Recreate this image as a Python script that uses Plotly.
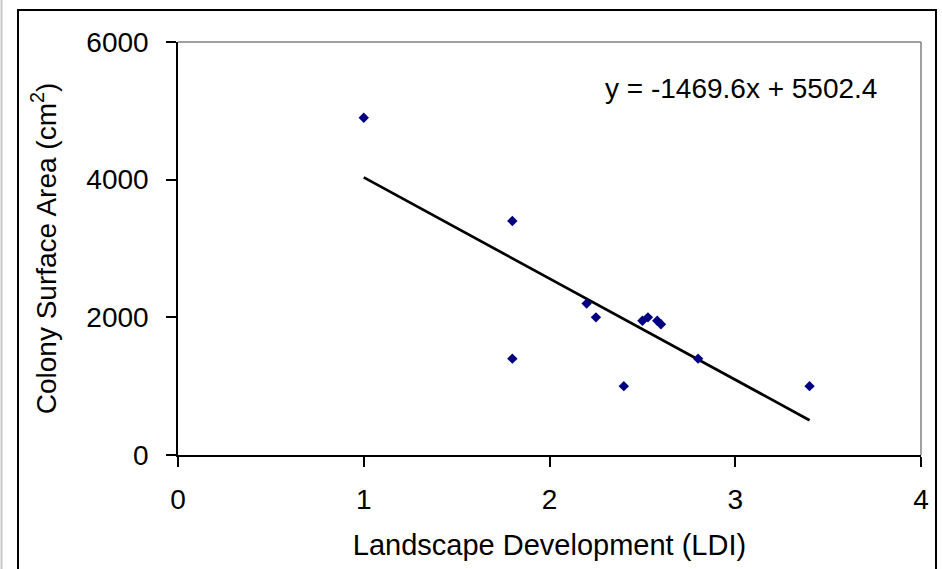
import plotly.graph_objects as go

# Data
ldi = [1.0, 1.8, 1.8, 2.2, 2.25, 2.4, 2.5, 2.53, 2.58, 2.6, 2.8, 3.4]
surface_area = [4900, 3400, 1400, 2200, 2000, 1000, 1950, 2000, 1950, 1900, 1400, 1000]

slope = -1469.6
intercept = 5502.4
equation_text = "y = -1469.6x + 5502.4"

x_ticks = [0, 1, 2, 3, 4]
y_ticks = [0, 2000, 4000, 6000]

W, H = 942, 569
L, R, T, B = 178, 21, 42, 114
pw, ph = W - L - R, H - T - B


def px_to_paper_x(px):
    return (px - L) / pw


def px_to_paper_y(py):
    return (H - B - py) / ph


font_family = "Arial, Liberation Sans, sans-serif"

fig = go.Figure()

trend_x = [min(ldi), max(ldi)]
trend_y = [slope * v + intercept for v in trend_x]
fig.add_trace(go.Scatter(
    x=trend_x, y=trend_y, mode="lines",
    line=dict(color="black", width=2.7),
    hoverinfo="skip", showlegend=False,
))

fig.add_trace(go.Scatter(
    x=ldi, y=surface_area, mode="markers",
    marker=dict(symbol="diamond", size=8, color="#000080", line=dict(width=0)),
    showlegend=False,
))

axis_common = dict(
    showgrid=False, zeroline=False, showline=True, linecolor="black", linewidth=1.5,
    ticks="outside", ticklen=10, tickwidth=1.5, tickcolor="black",
    tickfont=dict(family=font_family, size=28, color="black"),
)

fig.update_xaxes(
    range=[0, 4], tickvals=x_ticks, ticktext=[str(v) for v in x_ticks],
    ticklabelstandoff=9,
    title=dict(text="Landscape Development (LDI)", standoff=20,
               font=dict(family=font_family, size=29, color="black")),
    **axis_common,
)
fig.update_yaxes(
    range=[0, 6000], tickvals=y_ticks, ticktext=[str(v) for v in y_ticks],
    ticklabelstandoff=12,
    title=dict(text="Colony Surface Area (cm<sup>2</sup>)", standoff=22,
               font=dict(family=font_family, size=28, color="black")),
    **axis_common,
)

shapes = [
    # grey top and right plot-area border
    dict(type="line", xref="paper", yref="paper", x0=0, x1=1, y0=1, y1=1,
         line=dict(color="#808080", width=1.5)),
    dict(type="line", xref="paper", yref="paper", x0=1, x1=1, y0=0, y1=1,
         line=dict(color="#808080", width=1.5)),
    # outer chart frame
    dict(type="rect", xref="paper", yref="paper",
         x0=px_to_paper_x(18), x1=px_to_paper_x(936),
         y0=px_to_paper_y(600), y1=px_to_paper_y(10),
         line=dict(color="black", width=2), layer="below"),
    # light grey line at far left edge
    dict(type="line", xref="paper", yref="paper",
         x0=px_to_paper_x(1.5), x1=px_to_paper_x(1.5),
         y0=px_to_paper_y(600), y1=px_to_paper_y(0),
         line=dict(color="#c8c8c8", width=2)),
]

fig.update_layout(
    width=W, height=H,
    margin=dict(l=L, r=R, t=T, b=B, pad=0),
    paper_bgcolor="white", plot_bgcolor="white",
    shapes=shapes,
    annotations=[dict(
        text=equation_text, xref="paper", yref="paper",
        x=px_to_paper_x(741), y=px_to_paper_y(88),
        xanchor="center", yanchor="middle", showarrow=False,
        font=dict(family=font_family, size=28, color="black"),
    )],
)

fig.write_html(
    "out.html",
    config={"displayModeBar": False},
    post_script="document.body.style.margin='0';document.body.style.overflow='hidden';",
)
